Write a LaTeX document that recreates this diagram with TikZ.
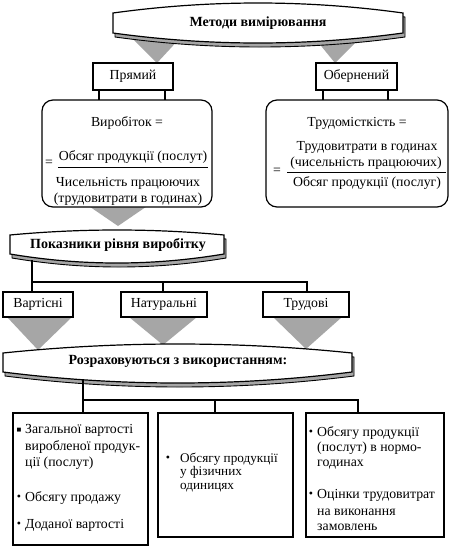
\documentclass[tikz,border=0pt]{standalone}
\usepackage{fontspec}
\setmainfont{Liberation Serif}
\usetikzlibrary{calc}
\definecolor{shade}{RGB}{166,166,166}
\newcommand{\mybanner}[6]{%
  \path[bannershadow, shift={(2,4)}] (#1,#3) .. controls ({#1+(#2-#1)/3},{#3-#5*4/3}) and ({#1+2*(#2-#1)/3},{#3-#5*4/3}) .. (#2,#3) -- (#2,#4) .. controls ({#1+2*(#2-#1)/3},{#4+#6*4/3}) and ({#1+(#2-#1)/3},{#4+#6*4/3}) .. (#1,#4) -- cycle;
  \path[bannermain] (#1,#3) .. controls ({#1+(#2-#1)/3},{#3-#5*4/3}) and ({#1+2*(#2-#1)/3},{#3-#5*4/3}) .. (#2,#3) -- (#2,#4) .. controls ({#1+2*(#2-#1)/3},{#4+#6*4/3}) and ({#1+(#2-#1)/3},{#4+#6*4/3}) .. (#1,#4) -- cycle;}
\begin{document}
\begin{tikzpicture}[x=1pt,y=-1pt,
  bannershadow/.style={fill=shade, draw=black, line width=0.9pt},
  bannermain/.style={fill=white, draw=black, line width=1.2pt},
  tri/.style={fill=shade, draw=none},
  box/.style={draw=black, line width=1.2pt, fill=white, inner sep=0pt},
  rbox/.style={box, rounded corners=11pt},
  conn/.style={draw=black, line width=1.2pt},
  frac/.style={draw=black, line width=0.8pt},
  txt/.style={inner sep=0pt, text height=9pt, text depth=3pt, font=\fontsize{13.8}{15}\selectfont},
  tight/.style={inner sep=0pt, text height=8.5pt, text depth=2.5pt, font=\fontsize{13.2}{14}\selectfont},
  btxt/.style={txt, font=\bfseries\fontsize{14}{16}\selectfont},
  bul/.style={txt, text height=5pt, text depth=1pt, font=\fontsize{12}{12}\selectfont}]
\useasboundingbox[fill=white] (0,0) rectangle (450,550);

% ---------- triangles (behind) ----------
\fill[tri] (130,36) -- (182,36) -- (157,63) -- cycle;
\fill[tri] (313,36) -- (362,36) -- (335,63) -- cycle;
\fill[tri] (80,200) -- (156,200) -- (118,226) -- cycle;
\fill[tri] (7,317) -- (72,317) -- (38,350) -- cycle;
\fill[tri] (129,317) -- (197,317) -- (163,345) -- cycle;
\fill[tri] (273,317) -- (342,317) -- (306,349) -- cycle;

% ---------- banner 1 ----------
\mybanner{113}{403}{13}{33}{10}{10}
\node[btxt] (m) at (258,23) {Методи вимірювання};

% ---------- method boxes ----------
\node[box, minimum width=80pt, minimum height=27pt] (p) at (133,76.5) {};
\node[txt] (pt) at (133,76.5) {Прямий};
\node[box, minimum width=81pt, minimum height=27pt] (o) at (356.5,76.5) {};
\node[txt] (ot) at (356.5,76.5) {Обернений};

% ---------- rounded boxes ----------
\draw[conn] ([xshift=-34pt]p.south) rectangle (165,101);
\draw[conn] ([xshift=-33.5pt]o.south) rectangle (388,101);
\node[rbox, minimum width=170pt, minimum height=107pt] (r1) at (127,153.5) {};
\node[rbox, minimum width=182pt, minimum height=107pt] (r2) at (357,153.5) {};

\node[txt] (v1) at (127,123) {Виробіток =};
\node[txt] (eq1) at (49,163) {=};
\node[txt] (n1) at (133,157) {Обсяг продукції (послут)};
\draw[frac] (58,167) -- (208,167);
\node[txt] (d1) at (128,183) {Чисельність працюючих};
\node[txt] (d1b) at (128,199) {(трудовитрати в годинах)};

\node[txt] (v2) at (357,123) {Трудомісткість =};
\node[txt] (n2a) at (367,147) {Трудовитрати в годинах};
\node[txt] (n2b) at (366,163) {(чисельність працюючих)};
\draw[frac] (287,172) -- (446,172);
\node[txt] (d2) at (367,183) {Обсяг продукції (послуг)};
\node[txt] (eq2) at (277,171) {=};

% ---------- banner 2 ----------
\mybanner{10}{224}{235}{254}{5}{9}
\node[btxt] (pk) at (118,245) {Показники рівня виробітку};
\coordinate (b2foot) at (32,260);
\coordinate (t1) at (32,282);
\coordinate (t2) at (163,282);
\coordinate (t3) at (307,282);

% ---------- indicator boxes ----------
\node[box, minimum width=70pt, minimum height=25pt] (vb) at (38,304.5) {};
\node[txt] at (38,304.5) {Вартісні};
\node[box, minimum width=86pt, minimum height=25pt] (nb) at (164,304.5) {};
\node[txt] at (164,304.5) {Натуральні};
\node[box, minimum width=86pt, minimum height=25pt] (tb) at (306,304.5) {};
\node[txt] at (306,304.5) {Трудові};
\draw[conn] (b2foot) -- (b2foot |- vb.north);
\draw[conn] (t1) -- (t3) -- (t3 |- tb.north);
\draw[conn] (t2) -- (t2 |- nb.north);

% ---------- banner 3 ----------
\mybanner{3}{352}{353}{372}{9}{11}
\node[btxt] (rz) at (178,361) {Розраховуються з використанням:};
\coordinate (b3foot) at (83,380);
\coordinate (h1) at (83,400);
\coordinate (h2) at (215,400);
\coordinate (h3) at (358,400);

% ---------- bottom boxes ----------
\node[box, minimum width=135pt, minimum height=132pt] (lb) at (80.5,479) {};
\node[box, minimum width=135pt, minimum height=124pt] (mb) at (225.5,475) {};
\node[box, minimum width=138pt, minimum height=124pt] (rb) at (375,475) {};
\draw[conn] (b3foot) -- (b3foot |- lb.north);
\draw[conn] (h1) -- (h3) -- (h3 |- rb.north);
\draw[conn] (h2) -- (h2 |- mb.north);

% left box text
\node[bul, font=\fontsize{8}{8}\selectfont] at (19,430) {■};
\node[txt, anchor=west] at (25,430) {Загальної вартості};
\node[txt, anchor=west] at (25,447) {виробленої продук-};
\node[txt, anchor=west] at (25,463) {ції (послут)};
\node[bul] at (19,498) {•};
\node[txt, anchor=west] at (25,498) {Обсягу продажу};
\node[bul] at (19,525) {•};
\node[txt, anchor=west] at (25,525) {Доданої вартості};

% middle box text
\node[bul] at (168,459) {•};
\node[tight, anchor=west] at (180,459) {Обсягу продукції};
\node[tight, anchor=west] at (180,472.5) {у фізичних};
\node[tight, anchor=west] at (180,486) {одиницях};

% right box text
\node[bul] at (311,433) {•};
\node[txt, anchor=west] at (317,433) {Обсягу продукції};
\node[txt, anchor=west] at (317,448) {(послут) в нормо-};
\node[txt, anchor=west] at (317,463) {годинах};
\node[bul] at (311,495) {•};
\node[txt, anchor=west] at (317,495) {Оцінки трудовитрат};
\node[txt, anchor=west] at (317,512) {на виконання};
\node[txt, anchor=west] at (317,527) {замовлень};
\end{tikzpicture}
\end{document}
